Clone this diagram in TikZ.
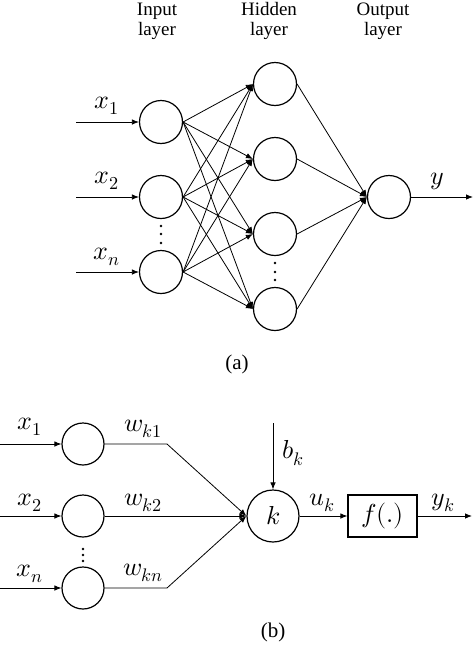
\documentclass[tikz,border=0pt]{standalone}
\usepackage{fontspec}
\usepackage{unicode-math}
\setmainfont{Liberation Serif}
\setmathfont{Latin Modern Math}
\usetikzlibrary{arrows.meta}
\begin{document}
\begin{tikzpicture}[x=1pt,y=-1pt,
  neuron/.style={circle,draw,line width=1.2pt,minimum size=43pt,inner sep=0pt},
  bigneuron/.style={circle,draw,line width=1.2pt,minimum size=52pt,inner sep=0pt},
  fbox/.style={draw,line width=1.2pt,minimum width=69pt,minimum height=42pt,inner sep=0pt},
  arr/.style={line width=0.8pt,-{Latex[length=7pt,width=5.5pt]}},
  hdr/.style={align=center,font=\fontsize{19}{20}\selectfont,inner sep=0pt},
  lbl/.style={font=\fontsize{26}{28}\selectfont,inner sep=0pt},
  captext/.style={font=\fontsize{21}{24}\selectfont,inner sep=0pt},
  dotc/.style={fill=black,draw=none,circle,minimum size=2.8pt,inner sep=0pt}
]
\useasboundingbox (0,0) rectangle (474,646);
% ---------- (a) ----------
\node[hdr] (hin) at (157,21) {Input\\layer};
\node[hdr] (hhid) at (269,21) {Hidden\\layer};
\node[hdr] (hout) at (383,21) {Output\\layer};

\node[neuron] (i1) at (161,122) {};
\node[neuron] (i2) at (161,197) {};
\node[neuron] (i3) at (161,272) {};

\node[neuron] (h1) at (275,84) {};
\node[neuron] (h2) at (275,159) {};
\node[neuron] (h3) at (275,234) {};
\node[neuron] (h4) at (275,309) {};

\node[neuron] (o) at (389,197) {};

\coordinate (s1) at (76,122);
\coordinate (s2) at (76,197);
\coordinate (s3) at (76,272);
\coordinate (ye) at (473,197);

\draw[arr] (s1) -- (i1.west);
\draw[arr] (s2) -- (i2.west);
\draw[arr] (s3) -- (i3.west);

\foreach \i in {i1,i2,i3}{
  \foreach \h in {h1,h2,h3,h4}{
    \draw[arr] (\i.east) -- (\h.west);
  }
}
\foreach \h in {h1,h2,h3,h4}{
  \draw[arr] (\h.east) -- (o.west);
}
\draw[arr] (o.east) -- (ye);

\node[lbl] (lx1) at (107,106) {$x_1$};
\node[lbl] (lx2) at (107,181) {$x_2$};
\node[lbl] (lxn) at (107,257) {$x_n$};
\node[lbl] (ly) at (437,181) {$y$};

\node[dotc] (da1) at (161,226) {};
\node[dotc] (da2) at (161,234) {};
\node[dotc] (da3) at (161,243) {};
\node[dotc] (db1) at (275,263) {};
\node[dotc] (db2) at (275,272) {};
\node[dotc] (db3) at (275,280) {};

\node[captext] (capa) at (237,364) {(a)};

% ---------- (b) ----------
\node[neuron,minimum size=42pt] (p1) at (83,444) {};
\node[neuron,minimum size=42pt] (p2) at (83,516) {};
\node[neuron,minimum size=42pt] (p3) at (83,588) {};

\coordinate (q1) at (0,444);
\coordinate (q2) at (0,516);
\coordinate (q3) at (0,588);
\draw[arr] (q1) -- (p1.west);
\draw[arr] (q2) -- (p2.west);
\draw[arr] (q3) -- (p3.west);

\node[bigneuron] (k) at (273,516) {\fontsize{26}{28}\selectfont$k$};
\coordinate (c1) at (167,444);
\coordinate (c3) at (167,588);
\draw[arr] (p1.east) -- (c1) -- (k.west);
\draw[arr] (p2.east) -- (k.west);
\draw[arr] (p3.east) -- (c3) -- (k.west);

\coordinate (bt) at (273,423);
\draw[arr] (bt) -- (k.north);

\node[fbox] (f) at (382.5,516) {\fontsize{26}{28}\selectfont$f(.)$};
\draw[arr] (k.east) -- (f.west);
\coordinate (yke) at (472,516);
\draw[arr] (f.east) -- (yke);

\node[lbl] (bx1) at (30,427) {$x_1$};
\node[lbl] (bx2) at (30,503) {$x_2$};
\node[lbl] (bxn) at (30,574) {$x_n$};
\node[lbl] (w1) at (143,429) {$w_{k1}$};
\node[lbl] (w2) at (143,503) {$w_{k2}$};
\node[lbl] (wn) at (143,573) {$w_{kn}$};
\node[lbl] (bk) at (293,453) {$b_k$};
\node[lbl] (uk) at (322,503) {$u_k$};
\node[lbl] (yk) at (443,503) {$y_k$};

\node[dotc] (dc1) at (83,549) {};
\node[dotc] (dc2) at (83,555) {};
\node[dotc] (dc3) at (83,561) {};

\node[captext] (capb) at (273,632) {(b)};
\end{tikzpicture}
\end{document}
